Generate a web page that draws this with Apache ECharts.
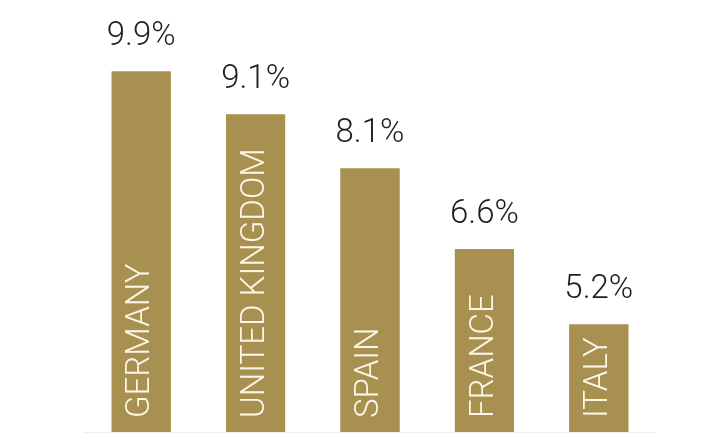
<!DOCTYPE html>
<html>
<head>
<meta charset="utf-8">
<script src="https://cdn.jsdelivr.net/npm/echarts@6/dist/echarts.min.js"></script>
<style>
  html, body { margin: 0; padding: 0; background: #fff; }
  #chart { width: 718px; height: 434px; }
</style>
</head>
<body>
<div id="chart"></div>
<script>
// 国家与数值
var countries = ['GERMANY', 'UNITED KINGDOM', 'SPAIN', 'FRANCE', 'ITALY']
var rates = [9.9, 9.1, 8.1, 6.6, 5.2]

var gold = '#a89150'
var font = 'Roboto, "DejaVu Sans Condensed", sans-serif'

var myChart = echarts.init(document.getElementById('chart'))
var option = {
  backgroundColor: '#fff',
  animation: false,
  grid: { left: 84, right: 62, top: 0, bottom: 2 },
  xAxis: {
    type: 'category',
    data: countries,
    axisLine: { show: true, lineStyle: { color: '#eeeeee' } },
    axisTick: { show: false },
    axisLabel: { show: false }
  },
  yAxis: {
    type: 'value',
    min: 3.2,
    max: 11.23,
    show: false
  },
  series: [
    {
      // 数值标签在柱顶
      type: 'bar',
      data: rates,
      barWidth: 59,
      itemStyle: { color: gold },
      label: {
        show: true,
        position: 'top',
        distance: 18,
        color: '#1e1e1e',
        fontSize: 33,
        fontWeight: 300,
        fontFamily: font,
        formatter: '{c}%'
      }
    },
    {
      // 国家名竖排在柱内
      type: 'bar',
      data: rates,
      barWidth: 59,
      barGap: '-100%',
      itemStyle: { color: gold },
      label: {
        show: true,
        position: 'insideBottom',
        rotate: 90,
        align: 'left',
        verticalAlign: 'middle',
        distance: 14,
        color: '#fbf6e8',
        fontSize: 33,
        fontWeight: 300,
        fontFamily: font,
        formatter: function (p) { return countries[p.dataIndex] }
      }
    }
  ]
}
myChart.setOption(option)
</script>
</body>
</html>
